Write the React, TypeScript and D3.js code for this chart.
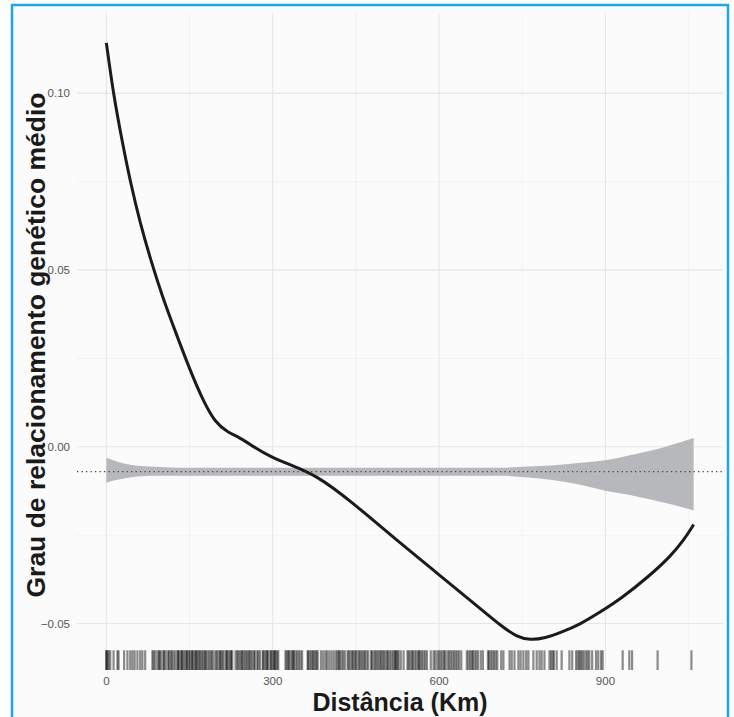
import React from 'react';
import * as d3 from 'd3';

// smoothed curve (distance km, mean relatedness)
const curveX = [0, 12.6, 28.9, 43.3, 61.4, 79.4, 101, 124.5, 151.5, 175, 196.6, 218.2, 241.7, 268.7, 295.8, 331.8, 376.9, 440, 530, 620.4, 674.5, 710.6, 740, 764.6, 791.7, 818.8, 854.8, 890.9, 927, 981, 1017, 1041, 1059];
const curveY = [0.1143, 0.0999, 0.0861, 0.0749, 0.063, 0.0532, 0.0425, 0.0326, 0.0214, 0.0129, 0.0068, 0.0042, 0.0025, -0.0003, -0.0028, -0.0051, -0.0079, -0.0152, -0.0273, -0.0388, -0.0458, -0.0505, -0.0538, -0.0547, -0.0541, -0.0526, -0.0502, -0.0467, -0.0431, -0.0363, -0.031, -0.0265, -0.022];

// null envelope
const bandX = [0, 20, 43, 79, 130, 170, 260, 350, 450, 530, 620, 711, 760, 801, 855, 900, 940, 981, 1020, 1059];
const bandHi = [-0.0031, -0.0042, -0.0051, -0.0056, -0.0059, -0.0059, -0.0059, -0.0059, -0.0059, -0.0059, -0.0059, -0.0059, -0.0056, -0.0053, -0.0045, -0.0038, -0.0025, -0.0011, 0.0006, 0.0025];
const bandLo = [-0.0101, -0.0093, -0.0087, -0.0082, -0.0082, -0.0082, -0.0082, -0.0082, -0.0082, -0.0082, -0.0082, -0.0082, -0.0087, -0.0093, -0.0107, -0.0124, -0.0135, -0.0149, -0.0163, -0.018];
const meanLine = -0.007;

// pairwise distances (rug)
const rugKm = [
  0, 0, 2, 4, 7, 13, 20, 22, 32, 38, 43, 47, 51, 56, 61, 65, 70,
  83, 85, 88, 92, 95, 96, 99, 103, 104, 107, 111, 113, 116, 118, 121, 124,
  128, 129, 131, 134, 136, 137, 140, 143, 145, 146, 149, 151, 154, 155, 157, 160, 162, 163, 166, 168, 170,
  173, 175, 178, 179, 182, 185, 188, 190, 193, 197, 199, 202, 205, 206, 209, 211,
  215, 217, 218, 221, 224, 225, 227, 233, 236, 238, 241, 244, 245, 248, 251, 253, 256,
  258, 260, 263, 266, 268, 272, 274, 277, 282, 283, 286, 289, 290, 292,
  296, 297, 300, 302, 304, 305, 308, 310, 323, 325, 328, 329, 332, 335, 337, 338, 341, 344, 347,
  350, 353, 363, 364, 367, 370, 372, 374, 377, 379, 381, 387, 391, 395, 398, 402, 406, 410, 414, 417,
  419, 421, 424, 427, 430, 435, 437, 440, 443, 445, 448, 450, 453, 456, 458, 461, 464, 466, 469, 472,
  477, 479, 482, 485, 487, 490, 493, 495, 498, 500, 503, 506, 508, 511, 514, 517, 520, 521, 523, 525, 527,
  531, 536, 543, 545, 548, 551, 553, 556, 559, 562, 564, 566, 569, 572, 575, 578, 585, 590, 593,
  597, 600, 603, 606, 609, 611, 615, 618, 621, 624, 627, 630, 633, 636, 640,
  650, 653, 656, 659, 661, 664, 667, 670, 675, 679, 688, 690, 693, 696, 699, 702, 705, 712, 716,
  727, 731, 736, 743, 747, 752, 757, 761, 770, 776, 781, 785, 790, 799, 802, 805, 807, 812, 821, 835, 840,
  847, 850, 853, 855, 858, 861, 865, 868, 871, 876, 883, 887, 892, 895, 931, 943, 948, 994, 1055,
];

const xMajor = [0, 300, 600, 900];
const xMinor = [150, 450, 750, 1050];
const yMajor = [-0.05, 0, 0.05, 0.1];
const yMinor = [-0.025, 0.025, 0.075];

const W = 734;
const H = 717;
const panel = { left: 77, right: 723, top: 13, bottom: 670 };
const font = '"Liberation Sans", Arial, Helvetica, sans-serif';

export default function App() {
  const xMax = d3.max(curveX) as number;
  const yMin = d3.min(curveY) as number;
  const yMax = d3.max(curveY) as number;
  const xPad = xMax * 0.05;
  const yPad = (yMax - yMin) * 0.05;

  const x = d3.scaleLinear().domain([-xPad, xMax + xPad]).range([panel.left, panel.right]);
  const y = d3.scaleLinear().domain([yMin - yPad, yMax + yPad]).range([panel.bottom, panel.top]);

  const curvePts = curveX.map((v, i) => [v, curveY[i]] as [number, number]);
  const line = d3
    .line<[number, number]>()
    .x(d => x(d[0]))
    .y(d => y(d[1]))
    .curve(d3.curveBasis);

  const bandPts = bandX.map((v, i) => ({ x: v, lo: bandLo[i], hi: bandHi[i] }));
  const area = d3
    .area<{ x: number; lo: number; hi: number }>()
    .x(d => x(d.x))
    .y0(d => y(d.lo))
    .y1(d => y(d.hi))
    .curve(d3.curveMonotoneX);

  const rugLen = (panel.bottom - panel.top) * 0.03;

  return (
    <svg
      width={W}
      height={H}
      style={{ position: 'absolute', left: 0, top: 0, background: '#fff' }}
    >
      <rect x={12} y={5} width={716} height={730} fill="#fbfbfb" stroke="#1aa9e3" strokeWidth={2.5} />

      {/* grid */}
      {xMinor.map(v => (
        <line key={'xm' + v} x1={x(v)} x2={x(v)} y1={panel.top} y2={panel.bottom} stroke="#ededed" strokeWidth={0.6} />
      ))}
      {yMinor.map(v => (
        <line key={'ym' + v} x1={panel.left} x2={panel.right} y1={y(v)} y2={y(v)} stroke="#ededed" strokeWidth={0.6} />
      ))}
      {xMajor.map(v => (
        <line key={'xM' + v} x1={x(v)} x2={x(v)} y1={panel.top} y2={panel.bottom} stroke="#e6e6e6" strokeWidth={1.1} />
      ))}
      {yMajor.map(v => (
        <line key={'yM' + v} x1={panel.left} x2={panel.right} y1={y(v)} y2={y(v)} stroke="#e6e6e6" strokeWidth={1.1} />
      ))}

      {/* envelope */}
      <path d={area(bandPts) as string} fill="#b7b8bc" />
      <line
        x1={panel.left}
        x2={panel.right}
        y1={y(meanLine)}
        y2={y(meanLine)}
        stroke="#444"
        strokeWidth={1.3}
        strokeDasharray="1.3 3.2"
      />

      {/* curve */}
      <path d={line(curvePts) as string} fill="none" stroke="#1b1b1b" strokeWidth={3} strokeLinecap="butt" />

      {/* rug */}
      {rugKm.map((v, i) => (
        <line
          key={'r' + i}
          x1={x(v)}
          x2={x(v)}
          y1={panel.bottom}
          y2={panel.bottom - rugLen}
          stroke="#000"
          strokeOpacity={0.45}
          strokeWidth={2.2}
        />
      ))}

      {/* tick labels */}
      {xMajor.map(v => (
        <text key={'xt' + v} x={x(v)} y={685} textAnchor="middle" fontFamily={font} fontSize={11.5} fill="#555">
          {v}
        </text>
      ))}
      {yMajor.map(v => (
        <text key={'yt' + v} x={70} y={y(v) + 4} textAnchor="end" fontFamily={font} fontSize={11.5} fill="#555">
          {d3.format('.2f')(v)}
        </text>
      ))}

      {/* titles */}
      <text x={400} y={711} textAnchor="middle" fontFamily={font} fontSize={25} fontWeight="bold" fill="#1a1a1a">
        Distância (Km)
      </text>
      <text
        transform={`translate(45,345) rotate(-90)`}
        textAnchor="middle"
        fontFamily={font}
        fontSize={26.5}
        fontWeight="bold"
        fill="#1a1a1a"
      >
        Grau de relacionamento genético médio
      </text>
    </svg>
  );
}
